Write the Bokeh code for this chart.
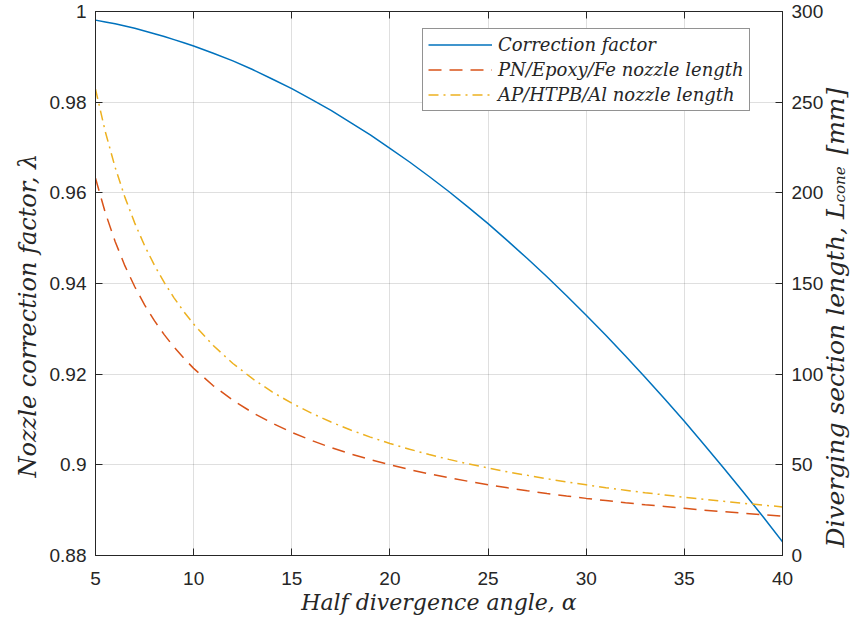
import math
from bokeh.plotting import figure
from bokeh.models import Range1d, LinearAxis, FixedTicker, Legend, LegendItem, Title
from bokeh.embed import file_html
from bokeh.resources import INLINE

# ---------------- data ----------------
alpha_deg = [5, 5.5, 6, 6.5, 7, 7.5, 8, 8.5, 9, 9.5, 10, 11, 12, 13, 14, 15, 16, 17, 18,
             19, 20, 21, 22, 23, 24, 25, 26, 27, 28, 29, 30, 31, 32, 33, 34, 35, 36,
             37, 38, 39, 40]
correction_factor = [0.9981, 0.9977, 0.9973, 0.9968, 0.9963, 0.9957, 0.9951, 0.9945,
                     0.9938, 0.9931, 0.9924, 0.9908, 0.9891, 0.9872, 0.9851, 0.9830,
                     0.9806, 0.9782, 0.9755, 0.9728, 0.9698, 0.9668, 0.9636, 0.9603,
                     0.9568, 0.9532, 0.9494, 0.9455, 0.9415, 0.9373, 0.9330, 0.9286,
                     0.9240, 0.9193, 0.9145, 0.9096, 0.9045, 0.8993, 0.8940, 0.8886,
                     0.8830]
pn_length = [208.0, 189.0, 173.2, 159.7, 148.2, 138.2, 129.5, 121.8, 114.9, 108.8, 103.2,
             93.6, 85.6, 78.8, 73.0, 67.9, 63.5, 59.5, 56.0, 52.9, 50.0, 47.4, 45.0,
             42.9, 40.9, 39.0, 37.3, 35.7, 34.2, 32.8, 31.5, 30.3, 29.1, 28.0, 27.0,
             26.0, 25.0, 24.2, 23.3, 22.5, 21.7]
ap_length = [257.2, 233.7, 214.1, 197.5, 183.3, 170.9, 160.1, 150.6, 142.1, 134.5, 127.6,
             115.8, 105.9, 97.5, 90.2, 84.0, 78.5, 73.6, 69.2, 65.3, 61.8, 58.6, 55.7,
             53.0, 50.5, 48.3, 46.1, 44.2, 42.3, 40.6, 39.0, 37.4, 36.0, 34.6, 33.4,
             32.1, 31.0, 29.9, 28.8, 27.8, 26.8]

series_names = ["Correction factor", "PN/Epoxy/Fe nozzle length", "AP/HTPB/Al nozzle length"]
x_ticks = [5, 10, 15, 20, 25, 30, 35, 40]
lam_ticks = [0.88, 0.90, 0.92, 0.94, 0.96, 0.98, 1.0]
lam_tick_labels = ["0.88", "0.9", "0.92", "0.94", "0.96", "0.98", "1"]
len_ticks = [0, 50, 100, 150, 200, 250, 300]

x_title = "Half divergence angle, \u03b1"
left_title = "Nozzle correction factor, \u03bb"
right_title_main = "Diverging section length, L"
right_title_sub = "cone"
right_title_unit = "[mm]"

# ---------------- layout ----------------
W, H = 867, 625
FL, FR, FT, FB = 95, 789, 11, 555          # frame edges in pixels
X0, X1 = 5, 40
R0, R1 = 0, 300

TXT = "#262626"
LABEL_FONT = "DejaVu Serif"
TICK_FONT = "Liberation Sans"
NB = "\u00a0"

p = figure(width=W, height=H, x_range=Range1d(X0, X1), y_range=Range1d(0.88, 1.0),
           output_backend="svg", toolbar_location=None,
           min_border_left=FL, min_border_right=W - FR,
           min_border_top=FT, min_border_bottom=H - FB)
p.extra_y_ranges = {"right": Range1d(R0, R1)}
p.background_fill_color = "white"
p.border_fill_color = "white"
p.outline_line_color = TXT
p.outline_line_width = 1


def style_axis(ax, labels=True):
    ax.axis_line_color = TXT
    ax.axis_line_width = 1
    ax.major_tick_line_color = TXT
    ax.major_tick_in = 7
    ax.major_tick_out = 0
    ax.minor_tick_in = 0
    ax.minor_tick_out = 0
    ax.minor_tick_line_color = None
    ax.major_label_text_font = TICK_FONT
    ax.major_label_text_font_size = "19px" if labels else "0px"
    ax.major_label_text_color = TXT


def bare_axis(**kw):
    ax = LinearAxis(ticker=FixedTicker(ticks=[]), **kw)
    ax.axis_line_color = None
    ax.major_tick_line_color = None
    ax.minor_tick_line_color = None
    ax.major_tick_in = 0
    ax.major_tick_out = 0
    ax.minor_tick_in = 0
    ax.minor_tick_out = 0
    ax.major_label_text_font_size = "0px"
    ax.major_label_standoff = 0
    return ax


def style_title(ax, text, size):
    ax.axis_label = text
    ax.axis_label_text_font = LABEL_FONT
    ax.axis_label_text_font_style = "italic"
    ax.axis_label_text_font_size = size
    ax.axis_label_text_color = TXT


xax = p.xaxis[0]
xax.ticker = FixedTicker(ticks=x_ticks)
style_axis(xax)
xax.major_label_standoff = 16
style_title(xax, x_title, "22px")
xax.axis_label_standoff = 2

yax = p.yaxis[0]
yax.ticker = FixedTicker(ticks=lam_ticks)
yax.major_label_overrides = {t: s for t, s in zip(lam_ticks, lam_tick_labels)}
style_axis(yax)
yax.major_label_standoff = 9

# left title placed in the left side panel, starting 78 px above the frame bottom
lt = Title(text=left_title, align="left", offset=78, text_font=LABEL_FONT,
           text_font_style="italic", text_font_size="24px", text_color=TXT)
p.add_layout(lt, "left")

# right axis with ticks and the main part of its title
rax = LinearAxis(y_range_name="right", ticker=FixedTicker(ticks=len_ticks))
style_axis(rax)
rax.major_label_standoff = 9
rax.axis_label_align = "start"
style_title(rax, NB + right_title_main + NB * 6 + right_title_unit, "25px")
rax.axis_label_orientation = math.pi / 2
rax.axis_label_standoff = 9
p.add_layout(rax, "right")

# bare right axis carrying the subscript of the title
rsub = bare_axis(y_range_name="right")
style_title(rsub, NB * 17 + right_title_sub, "15px")
rsub.axis_label_orientation = math.pi / 2
rsub.axis_label_standoff = -28
p.add_layout(rsub, "right")

tax = LinearAxis(ticker=FixedTicker(ticks=x_ticks))
style_axis(tax, labels=False)
tax.major_label_standoff = 0
tax.major_label_overrides = {t: "" for t in x_ticks}
p.add_layout(tax, "above")

p.xgrid.ticker = FixedTicker(ticks=x_ticks)
p.ygrid.ticker = FixedTicker(ticks=lam_ticks)
for g in (p.xgrid[0], p.ygrid[0]):
    g.grid_line_color = TXT
    g.grid_line_alpha = 0.15
    g.grid_line_width = 1

# ---------------- lines ----------------
r1 = p.line(alpha_deg, correction_factor, line_color="#0072BD", line_width=1.5)
r2 = p.line(alpha_deg, pn_length, y_range_name="right", line_color="#D95319",
            line_width=1.5, line_dash="13 8")
r3 = p.line(alpha_deg, ap_length, y_range_name="right", line_color="#EDB120",
            line_width=1.5, line_dash="10 5 2 5")

legend = Legend(items=[LegendItem(label=series_names[0], renderers=[r1]),
                       LegendItem(label=series_names[1], renderers=[r2]),
                       LegendItem(label=series_names[2], renderers=[r3])],
                location=(422 - FL, FB - 111))
legend.border_line_color = TXT
legend.border_line_width = 1
legend.background_fill_color = "white"
legend.background_fill_alpha = 1
legend.label_text_font = LABEL_FONT
legend.label_text_font_style = "italic"
legend.label_text_font_size = "18px"
legend.label_text_color = TXT
legend.glyph_width = 64
legend.glyph_height = 21
legend.label_height = 21
legend.spacing = 4
legend.padding = 5
legend.margin = 0
legend.label_standoff = 6
p.add_layout(legend)

open("out.html", "w").write(file_html(p, INLINE))
